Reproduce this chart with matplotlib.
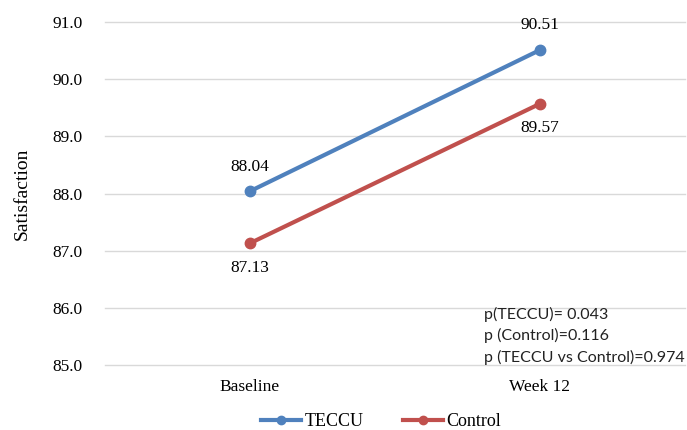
import matplotlib
matplotlib.use("Agg")
import matplotlib.pyplot as plt
from matplotlib.lines import Line2D

categories = ["Baseline", "Week 12"]
teccu = [88.04, 90.51]
control = [87.13, 89.57]
yticks = [85.0, 86.0, 87.0, 88.0, 89.0, 90.0, 91.0]
pvals = ["p(TECCU)= 0.043", "p (Control)=0.116", "p (TECCU vs Control)=0.974"]

serif = "Liberation Serif"
blue = "#4F81BD"
red = "#C0504D"

fig = plt.figure(figsize=(6.87, 4.30), dpi=100)
ax = fig.add_axes([0.1528, 0.1512, 0.8442, 0.7976])
x = [0, 1]
ax.plot(x, teccu, color=blue, lw=3, marker="o", ms=7.5, label="TECCU", zorder=3)
ax.plot(x, control, color=red, lw=3, marker="o", ms=7.5, label="Control", zorder=3)

for xi, v in zip(x, teccu):
    ax.annotate(f"{v:.2f}", (xi, v), xytext=(0, 12), textcoords="offset points",
                ha="center", va="bottom", fontsize=12.5, family=serif)
for xi, v in zip(x, control):
    ax.annotate(f"{v:.2f}", (xi, v), xytext=(0, -12), textcoords="offset points",
                ha="center", va="top", fontsize=12.5, family=serif)

ax.set_xlim(-0.5, 1.5)
ax.set_ylim(85, 91)
ax.set_yticks(yticks)
ax.set_yticklabels([f"{t:.1f}" for t in yticks], family=serif, fontsize=12.5)
ax.set_xticks(x)
ax.set_xticklabels(categories, family=serif, fontsize=12.5)
ax.tick_params(length=0, pad=16)
ax.tick_params(axis="x", pad=10)
for t in yticks:
    ax.axhline(t, color="#D9D9D9", lw=1, zorder=0, clip_on=False)
for s in ax.spines.values():
    s.set_visible(False)
ax.set_ylabel("Satisfaction", family=serif, fontsize=14, labelpad=16)

for yy, s in zip([85.89, 85.51, 85.14], pvals):
    ax.text(0.807, yy, s, fontsize=11.5, family="Lato", va="center", ha="left",
            color="#222222")

handles = [Line2D([], [], color=blue, lw=3, marker="o", ms=6),
           Line2D([], [], color=red, lw=3, marker="o", ms=6)]
fig.legend(handles, ["TECCU", "Control"], loc="center", bbox_to_anchor=(0.555, 0.019), ncol=2,
           frameon=False, prop={"family": serif, "size": 13}, handlelength=2.2,
           columnspacing=2.2, handletextpad=0.2)

fig.savefig("out.png", dpi=100)
